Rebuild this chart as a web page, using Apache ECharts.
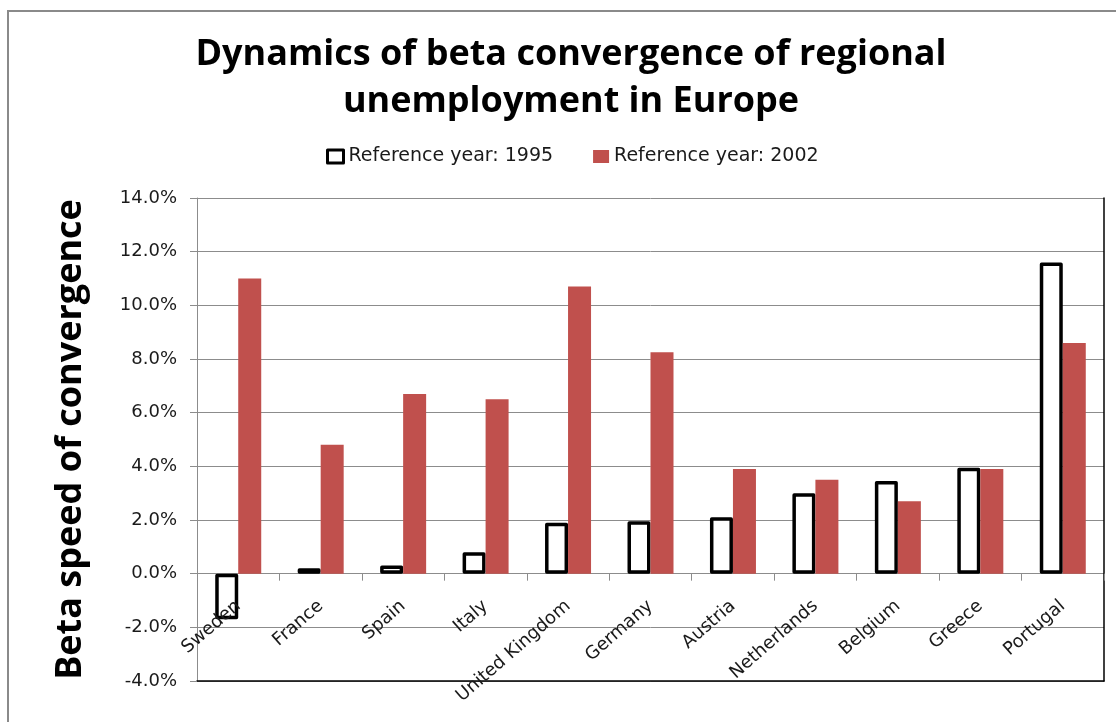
<!DOCTYPE html>
<html>
<head>
<meta charset="utf-8">
<title>Dynamics of beta convergence of regional unemployment in Europe</title>
<script src="https://cdn.jsdelivr.net/npm/echarts@6/dist/echarts.min.js"></script>
<style>
  html, body { margin: 0; padding: 0; background: #fff; }
  #chart { width: 1116px; height: 722px; }
</style>
</head>
<body>
<div id="chart"></div>
<script>
// Countries on the category axis
const countries = ['Sweden', 'France', 'Spain', 'Italy', 'United Kingdom', 'Germany',
                   'Austria', 'Netherlands', 'Belgium', 'Greece', 'Portugal'];

// Beta speed of convergence, in percent
const speed1995 = [-1.7, 0.2, 0.3, 0.8, 1.9, 1.95, 2.1, 3.0, 3.45, 3.95, 11.6];
const speed2002 = [11.0, 4.8, 6.7, 6.5, 10.7, 8.25, 3.9, 3.5, 2.7, 3.9, 8.6];

const seriesNames = ['Reference year: 1995', 'Reference year: 2002'];

// Value axis range (percent)
const yMin = -4, yMax = 14, yStep = 2;

const titleLines = ['Dynamics of beta convergence of regional', 'unemployment in Europe'];
const yAxisTitle = 'Beta speed of convergence';

const RED = '#C0504D';
const TEXT = '#1a1a1a';
const GRID_GRAY = '#8c8c8c';
const SMALL_FONT = 'DejaVu Sans';
const BOLD_FONT = 'Open Sans';

// plot rectangle
const GRID = { left: 197, right: 12, top: 198, bottom: 41 };
const plotHeight = 722 - GRID.top - GRID.bottom;
// the category axis sits on the 0% line: shift it up from the plot bottom
const zeroOffset = -plotHeight * (0 - yMin) / (yMax - yMin);

const chart = echarts.init(document.getElementById('chart'), null, { renderer: 'canvas' });

const option = {
  backgroundColor: '#fff',
  animation: false,
  title: {
    text: titleLines.join('\n'),
    left: 566,
    textAlign: 'center',
    top: 26,
    textStyle: {
      fontFamily: BOLD_FONT, fontWeight: 'bold', fontSize: 36,
      color: '#000', lineHeight: 47
    }
  },
  legend: {
    left: 326,
    top: 147,
    padding: 0,
    icon: 'rect',
    itemWidth: 16,
    itemHeight: 13,
    itemGap: 40,
    textStyle: { fontFamily: SMALL_FONT, fontSize: 19, color: TEXT },
    data: [
      { name: seriesNames[0], itemStyle: { color: '#fff', borderColor: '#000', borderWidth: 3 } },
      { name: seriesNames[1], itemStyle: { color: RED } }
    ]
  },
  graphic: [{
    // outer chart frame
    type: 'rect',
    shape: { x: 8, y: 11, width: 1130, height: 730 },
    style: { fill: null, stroke: '#8a8a8a', lineWidth: 2 },
    silent: true
  }],
  grid: {
    left: GRID.left, right: GRID.right, top: GRID.top, bottom: GRID.bottom,
    containLabel: false, outerBoundsMode: 'none'
  },
  xAxis: [{
    // category labels drawn above the bars; the 0% line itself comes from the y split lines
    type: 'category',
    data: countries,
    position: 'bottom',
    offset: zeroOffset,
    z: 3,
    axisLine: { show: false, onZero: false },
    axisTick: { show: true, length: 7, lineStyle: { color: GRID_GRAY } },
    axisLabel: {
      interval: 0, rotate: 41, margin: 30,
      fontFamily: SMALL_FONT, fontSize: 18, color: TEXT
    },
    splitLine: { show: false }
  }, {
    // plot area bottom edge
    type: 'category',
    data: countries,
    position: 'bottom',
    axisLine: { onZero: false, lineStyle: { color: '#000', width: 1.5 } },
    axisTick: { show: false },
    axisLabel: { show: false },
    splitLine: { show: false }
  }],
  yAxis: [{
    type: 'value',
    min: yMin, max: yMax, interval: yStep,
    name: yAxisTitle,
    nameLocation: 'middle',
    nameRotate: 90,
    nameGap: 108,
    nameTextStyle: { fontFamily: BOLD_FONT, fontWeight: 'bold', fontSize: 36, color: '#000' },
    axisLine: { show: true, lineStyle: { color: GRID_GRAY, width: 1 } },
    axisTick: { show: true, length: 7, lineStyle: { color: GRID_GRAY } },
    axisLabel: {
      margin: 20,
      fontFamily: SMALL_FONT, fontSize: 18, color: TEXT,
      formatter: v => v.toFixed(1) + '%'
    },
    splitLine: { show: true, lineStyle: { color: GRID_GRAY, width: 1 } }
  }, {
    // plot area right edge
    type: 'value',
    min: yMin, max: yMax, interval: yStep,
    position: 'right',
    axisLine: { show: true, lineStyle: { color: '#000', width: 1.5 } },
    axisTick: { show: false },
    axisLabel: { show: false },
    splitLine: { show: false }
  }],
  series: [{
    name: seriesNames[0],
    type: 'bar',
    data: speed1995,
    barWidth: 23,
    barGap: '0%',
    itemStyle: { color: '#fff', borderColor: '#000', borderWidth: 3.5, borderJoin: 'round' }
  }, {
    name: seriesNames[1],
    type: 'bar',
    data: speed2002,
    barWidth: 23,
    barGap: '0%',
    itemStyle: { color: RED }
  }]
};

chart.setOption(option);
</script>
</body>
</html>
